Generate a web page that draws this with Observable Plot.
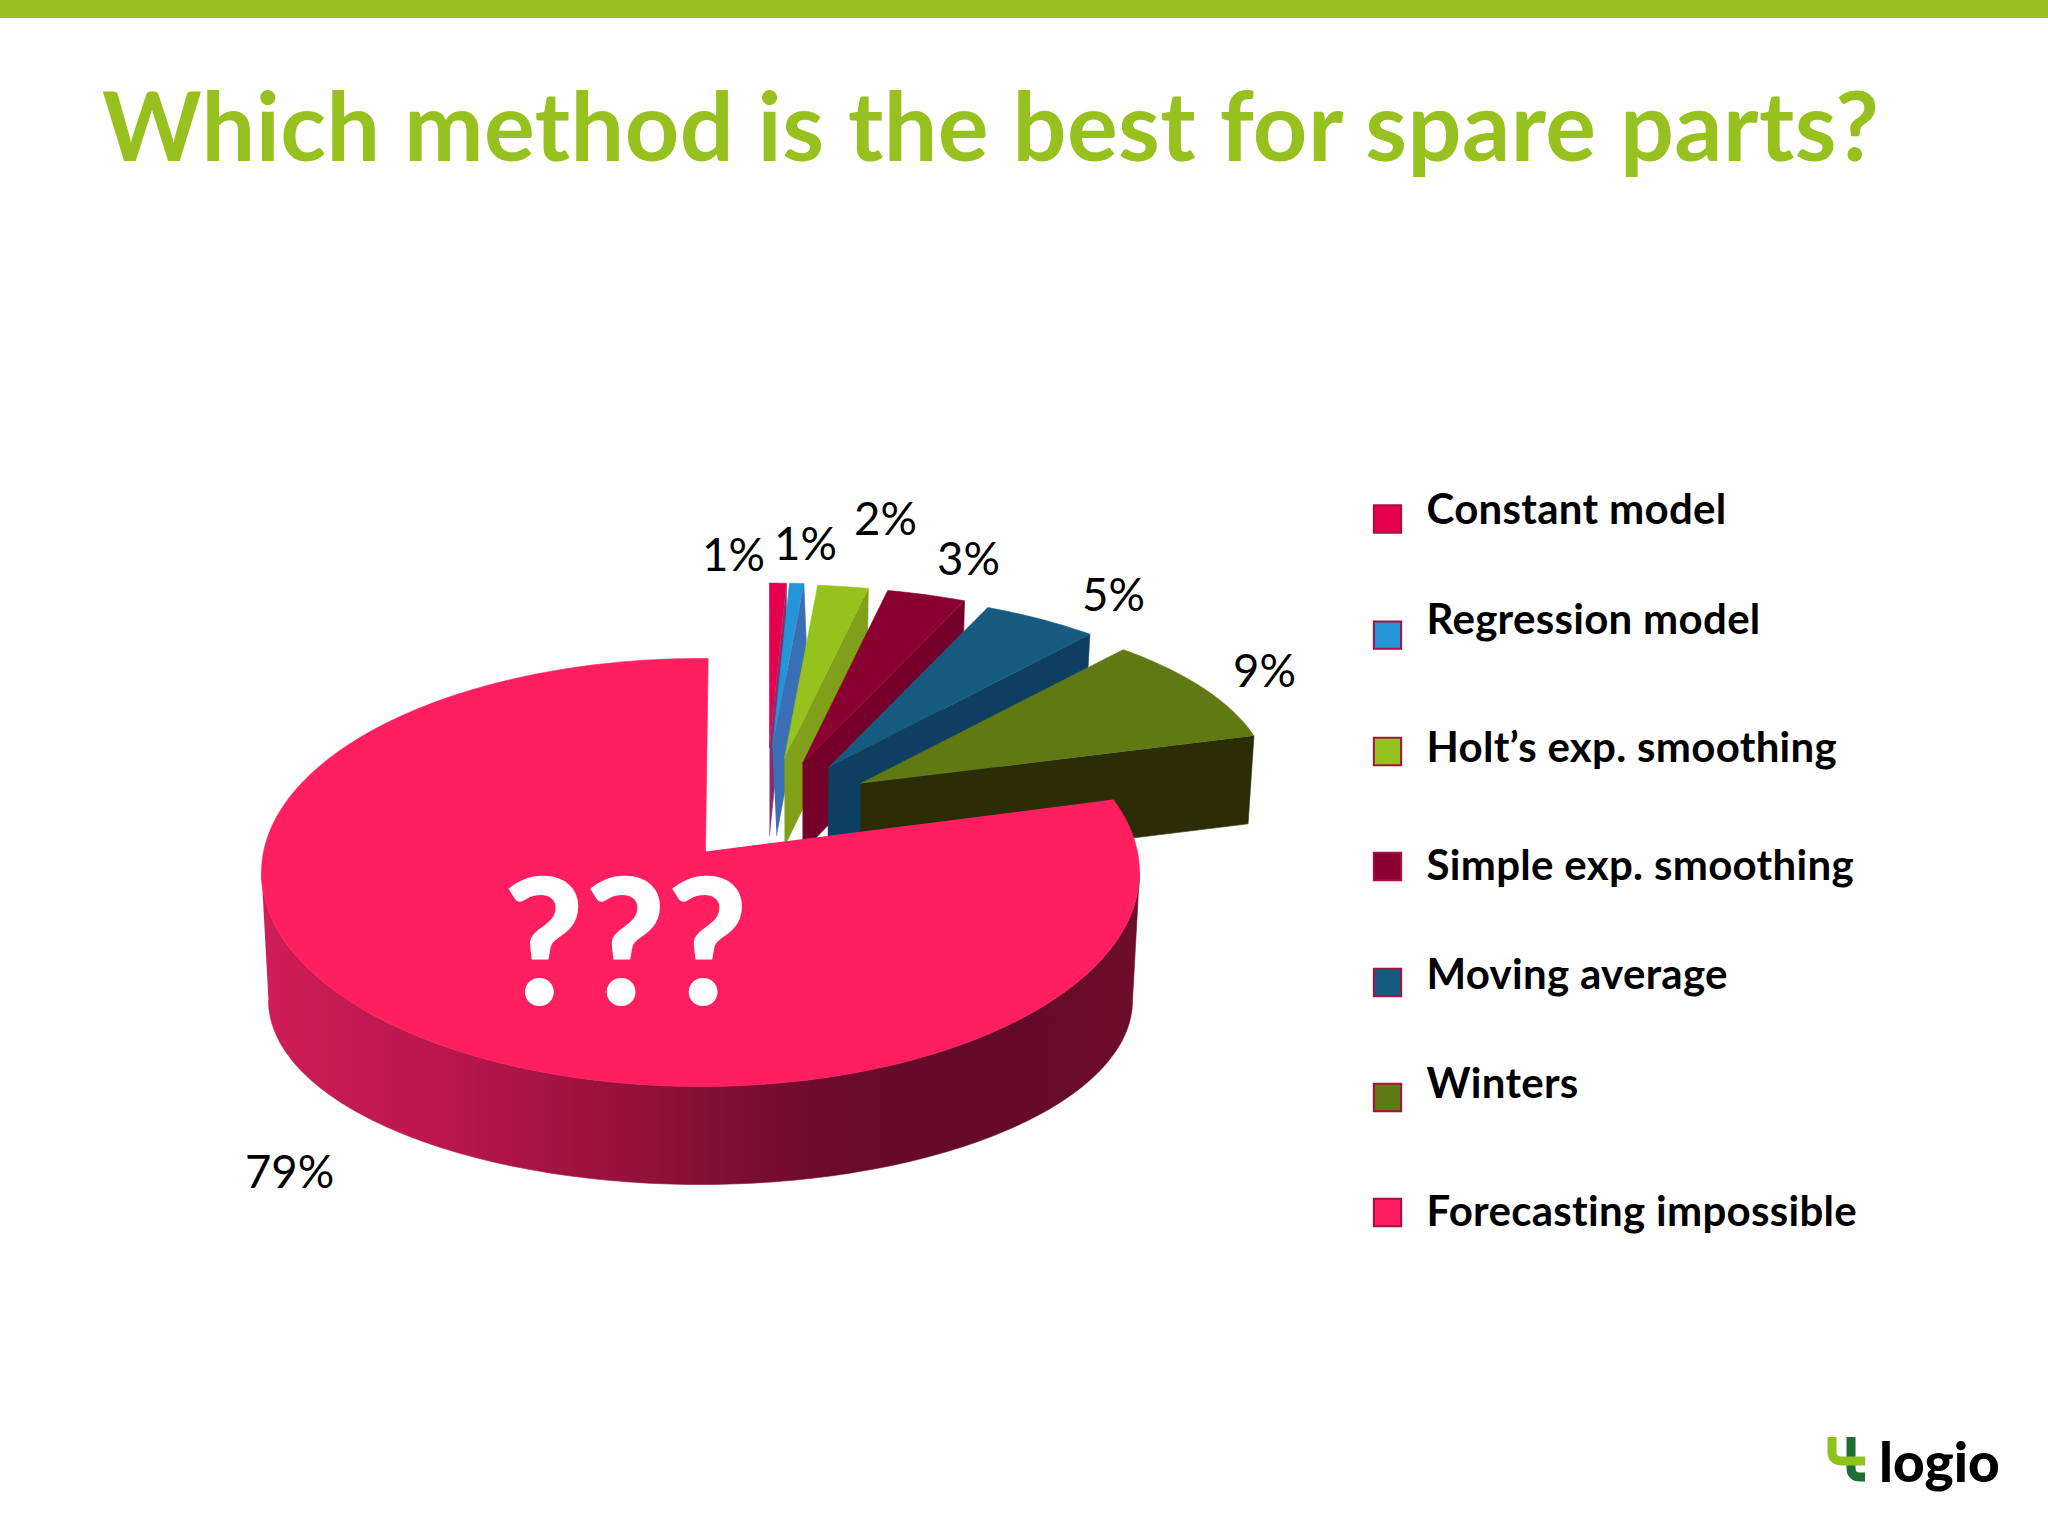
<!DOCTYPE html>
<html>
<head>
<meta charset="utf-8">
<script src="https://cdn.jsdelivr.net/npm/d3@7"></script>
<script src="https://cdn.jsdelivr.net/npm/@observablehq/plot@0.6"></script>
<style>
  html, body { margin: 0; padding: 0; background: #fff; }
  #page { position: relative; width: 2048px; height: 1536px; overflow: hidden; background: #fff; font-family: Lato, sans-serif; }
  #bar { position: absolute; left: 0; top: 0; width: 2048px; height: 18px; background: #96c11f; }
  #title { position: absolute; left: 102px; top: 68px; margin: 0; font: 700 95px/112px Lato, sans-serif; color: #96c11f; white-space: nowrap; letter-spacing: 0.46px; }
  #chart { position: absolute; left: 0; top: 0; }
  #logo { position: absolute; left: 0; top: 0; pointer-events: none; }
  .legend-label { letter-spacing: 0.3px; }
</style>
</head>
<body>
<div id="page">
  <div id="bar"></div>
  <h1 id="title">Which method is the best for spare parts?</h1>
  <div id="chart"></div>
  <svg id="logo" width="2048" height="1536">
    <path d="M1851 1437 L1851 1468 Q1851 1477 1860 1477 L1865 1477" fill="none" stroke="#1f6e34" stroke-width="9"/>
    <path d="M1832 1437 L1832 1452 Q1832 1461 1842 1461 L1865 1461" fill="none" stroke="#8dc21f" stroke-width="9"/>
    <text x="1879" y="1482" font-family="Lato" font-weight="900" font-size="55" fill="#000">logio</text>
  </svg>
</div>
<script>
// ---- data ----
const methods = ["Constant model", "Regression model", "Holt’s exp. smoothing", "Simple exp. smoothing", "Moving average", "Winters", "Forecasting impossible"];
const percentLabels = ["1%", "1%", "2%", "3%", "5%", "9%", "79%"];
const shares = [0.7, 0.6, 2.0, 3.1, 4.7, 9.5, 79];

// ---- styles ----
const topColors = ["#e5004d", "#2495d6", "#96c21d", "#8a0030", "#165a80", "#5f7a12", "#ff1f60"];
const sideColors = ["#8a2a70", "#3a6fb5", "#80a01a", "#74002a", "#0e3f63", "#2a2d06"];
const swatchColors = ["#e5004d", "#2495d6", "#96c21d", "#8a0030", "#165a80", "#5f7a12", "#ff1f60"];

// ---- layout of the exploded pie ----
const pie = {cx: 700, cy: 872, rx: 439, ry: 214, apexDy: -21, start: 89, stretch: 1.023,
             lowerCy: 1000, lowerRx: 432, lowerRy: 184};
const explodeDx = [69, 72, 84, 102, 128, 160];
const explodeDy = [-125, -125, -114, -109, -105, -89];
const sliceRadius = [385, 385, 407, 414, 407, 409];
const sideShift = [0, 4, 0, 0, -1, 0];
const sliceFlatten = 0.427, sliceDepth = 88, sliceTaper = 0.985;

// ---- legend and label layout ----
const swatchY = [518.5, 634.7, 751, 866, 982, 1097, 1212];
const legendY = [510.5, 620.5, 748.5, 866, 975.5, 1084.5, 1212.5];
const labelX = [733, 805, 885, 968, 1113, 1264, 289];
const labelY = [556, 545, 520, 560, 596, 672, 1173];

const rad = d => d * Math.PI / 180;
function arc(cx, cy, rx, ry, a0, a1) {
  const n = Math.max(2, Math.ceil(Math.abs(a1 - a0)));
  return d3.range(n + 1).map(i => {
    const a = rad(a0 + (a1 - a0) * i / n);
    return {x: cx + rx * Math.cos(a), y: cy - ry * Math.sin(a)};
  });
}

// exploded slices, painted from back-left to front-right
const faces = [];
let angle = 90;
for (let i = 0; i < 6; ++i) {
  const a0 = angle, a1 = angle - shares[i] * 3.6;
  angle = a1;
  const ax = pie.cx + explodeDx[i], ay = pie.cy + explodeDy[i];
  const R = sliceRadius[i], r = R * sliceFlatten;
  const rim = arc(ax, ay, R, r, a0, a1);
  const corner = rim[rim.length - 1];
  const down = p => ({x: ax + (p.x - ax) * sliceTaper + sideShift[i], y: p.y + sliceDepth});
  const apex = {x: ax, y: ay};
  faces.push({fill: sideColors[i], pts: [apex, corner, down(corner), down(apex)]});
  faces.push({fill: topColors[i], pts: [apex, ...rim]});
}
// large slice: rounded side wall, then top face
const sideTop = arc(pie.cx, pie.cy, pie.rx, pie.ry, 180, 360);
const sideLow = arc(pie.cx, pie.lowerCy, pie.lowerRx, pie.lowerRy, 360, 180);
faces.push({fill: "url(#sideGrad)", pts: [...sideTop, ...sideLow]});
const mainApex = {x: pie.cx + 5, y: pie.cy + pie.apexDy};
faces.push({fill: topColors[6], pts: [mainApex, ...arc(pie.cx, pie.cy, pie.rx, pie.ry, pie.start, pie.start + shares[6] * 3.6 * pie.stretch)]});

const gradient = () => {
  const g = d3.create("svg:g");
  const lg = g.append("defs").append("linearGradient").attr("id", "sideGrad").attr("x1", "0%").attr("x2", "100%");
  [["0%", "#cf1d58"], ["22%", "#b8164c"], ["45%", "#8f1039"], ["65%", "#6a0b2c"], ["85%", "#620a28"], ["100%", "#6e0d2c"]]
    .forEach(([o, c]) => lg.append("stop").attr("offset", o).attr("stop-color", c));
  return g.node();
};

const legendRows = methods.map((m, i) => ({m, i}));
const chart = Plot.plot({
  width: 2048, height: 1536, margin: 0,
  style: {background: "transparent"},
  x: {domain: [0, 2048], axis: null},
  y: {domain: [1536, 0], axis: null},
  marks: [
    gradient,
    ...faces.map(f => Plot.line(f.pts, {x: "x", y: "y", fill: f.fill, stroke: f.fill, strokeWidth: 0.6})),
    Plot.text(percentLabels, {x: (d, i) => labelX[i], y: (d, i) => labelY[i], text: d => d, fontSize: 45.5, fontFamily: "Lato", fill: "#000", textAnchor: "middle"}),
    Plot.text(["???"], {x: [625], y: [948], text: d => d, fontSize: 176, fontWeight: 900, fontFamily: "Lato", fill: "#fff", textAnchor: "middle"}),
    Plot.dot(legendRows, {x: () => 1387, y: d => swatchY[d.i], r: 15.4, symbol: "square", fill: d => swatchColors[d.i], stroke: "#a80f42", strokeWidth: 2}),
    Plot.text(legendRows, {x: () => 1426, y: d => legendY[d.i], text: "m", textAnchor: "start", fontSize: 42, fontWeight: 700, fontFamily: "Lato", fill: "#000", className: "legend-label"})
  ]
});
document.getElementById("chart").appendChild(chart);
</script>
</body>
</html>
